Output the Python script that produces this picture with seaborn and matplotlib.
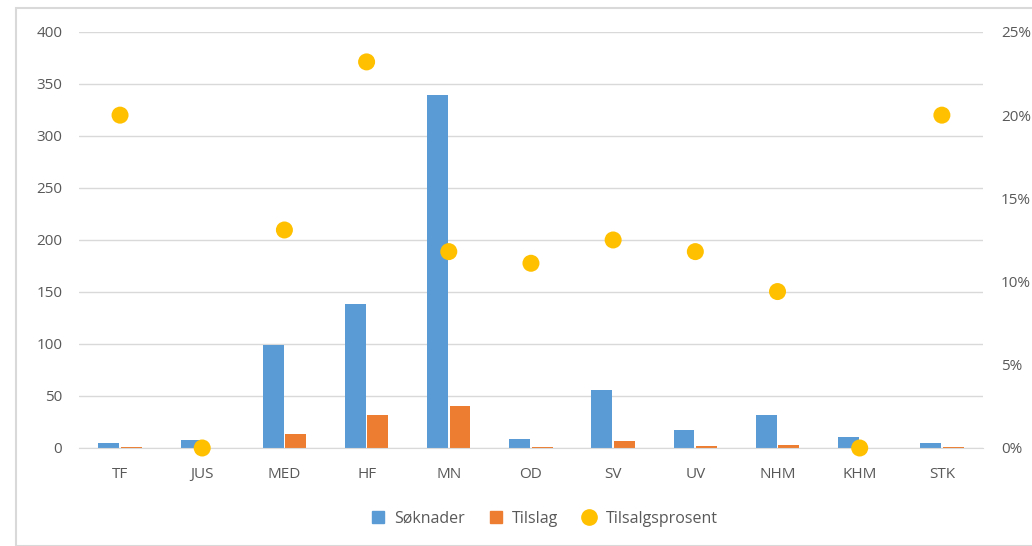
import pandas as pd
import numpy as np
import seaborn as sns
import matplotlib.pyplot as plt
from matplotlib.lines import Line2D
from matplotlib.patches import Rectangle
from matplotlib.ticker import PercentFormatter

# data
fakulteter = ['TF', 'JUS', 'MED', 'HF', 'MN', 'OD', 'SV', 'UV', 'NHM', 'KHM', 'STK']
soknader = [5, 8, 99, 138, 339, 9, 56, 17, 32, 11, 5]
tilslag = [1, 0, 13, 32, 40, 1, 7, 2, 3, 0, 1]
tilslag_pct = [20.0, 0.0, 13.1, 23.2, 11.8, 11.1, 12.5, 11.8, 9.4, 0.0, 20.0]

blue = '#5B9BD5'
orange = '#ED7D31'
yellow = '#FFC000'
textc = '#595959'
gridc = '#D9D9D9'

df = pd.DataFrame({'fak': fakulteter, 'Søknader': soknader, 'Tilslag': tilslag})
df_long = df.melt(id_vars='fak', var_name='type', value_name='antall')
df_pct = pd.DataFrame({'fak': fakulteter, 'pct': tilslag_pct})

sns.set_style('white')
plt.rcParams['font.family'] = ['Open Sans', 'DejaVu Sans']

fig = plt.figure(figsize=(10.32, 5.46), dpi=100)
ax = fig.add_axes([0.0765, 0.1795, 0.876, 0.762])

sns.barplot(data=df_long, x='fak', y='antall', hue='type', palette=[blue, orange],
            saturation=1, width=0.55, gap=0.08, linewidth=0,
            ax=ax, legend=False, zorder=2)
ax.set_ylim(0, 400)
ax.set_yticks(np.arange(0, 401, 50))
ax.yaxis.grid(True, color=gridc, linewidth=1, zorder=0)
ax.set_axisbelow(True)
ax.set_xlabel('')
ax.set_ylabel('')
for s in ['top', 'left', 'right']:
    ax.spines[s].set_visible(False)
ax.spines['bottom'].set_color(gridc)
ax.tick_params(axis='both', length=0, labelsize=11, colors=textc)
ax.tick_params(axis='x', pad=14)
ax.tick_params(axis='y', pad=12)

ax2 = ax.twinx()
sns.scatterplot(data=df_pct, x='fak', y='pct', color=yellow, s=150,
                edgecolor='none', ax=ax2, zorder=5, clip_on=False)
ax2.set_ylim(0, 25)
ax2.set_yticks(np.arange(0, 26, 5))
ax2.yaxis.set_major_formatter(PercentFormatter(decimals=0))
ax2.set_ylabel('')
for s in ['top', 'left', 'right', 'bottom']:
    ax2.spines[s].set_visible(False)
ax2.tick_params(axis='y', length=0, labelsize=11, colors=textc, pad=13)
ax.set_xlim(-0.5, len(fakulteter) - 0.5)

handles = [
    Line2D([], [], marker='s', linestyle='none', markersize=9, color=blue),
    Line2D([], [], marker='s', linestyle='none', markersize=9, color=orange),
    Line2D([], [], marker='o', linestyle='none', markersize=11, color=yellow),
]
fig.legend(handles, ['Søknader', 'Tilslag', 'Tilsalgsprosent'], loc='center',
           bbox_to_anchor=(0.523, 0.05), ncol=3, frameon=False, fontsize=11.5,
           labelcolor=textc, handletextpad=0.05, columnspacing=0.9)

fig.patches.append(Rectangle((16 / 1032, 0.0), 1.0, 1 - 8 / 546, transform=fig.transFigure,
                             fill=False, edgecolor='#D9D9D9', linewidth=1.5))

fig.savefig('out.png', dpi=100)
